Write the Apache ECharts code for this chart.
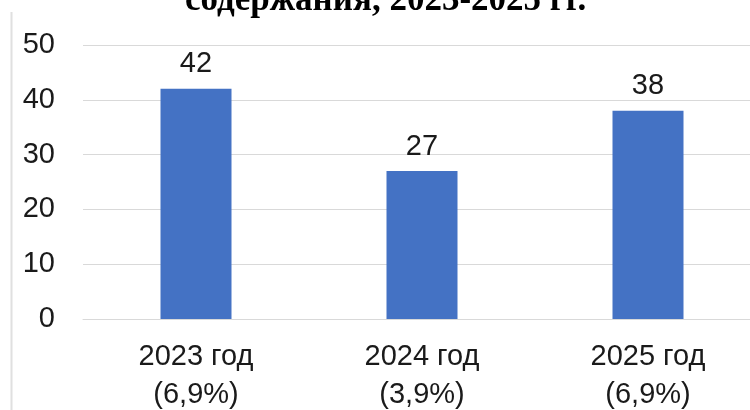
<!DOCTYPE html>
<html>
<head>
<meta charset="utf-8">
<script src="https://cdn.jsdelivr.net/npm/echarts@6/dist/echarts.min.js"></script>
<style>
html,body{margin:0;padding:0;background:#fff;}
#chart{width:750px;height:410px;}
</style>
</head>
<body>
<div id="chart"></div>
<script>
const titleText = 'содержания, 2023-2025 гг.';
const categories = ['2023 год\n(6,9%)', '2024 год\n(3,9%)', '2025 год\n(6,9%)'];
const values = [42, 27, 38];
const yTicks = { min: 0, max: 50, interval: 10 };

const chart = echarts.init(document.getElementById('chart'), null, { renderer: 'canvas' });
chart.setOption({
  animation: false,
  backgroundColor: '#ffffff',
  title: {
    text: titleText,
    left: 185,
    top: -17,
    padding: 0,
    textStyle: {
      fontFamily: '"Liberation Serif", "Times New Roman", serif',
      fontWeight: 'bold',
      fontSize: 35,
      color: '#000'
    }
  },
  graphic: [{
    type: 'line',
    shape: { x1: 11.5, y1: 12, x2: 11.5, y2: 410 },
    style: { stroke: '#e0e0e0', lineWidth: 2 },
    silent: true
  }],
  grid: { left: 83, right: -11, top: 45, bottom: 91, containLabel: false, outerBoundsMode: 'none' },
  xAxis: {
    type: 'category',
    data: categories,
    axisTick: { show: false },
    axisLine: { show: true, lineStyle: { color: '#d9d9d9', width: 1 } },
    axisLabel: {
      margin: 19,
      color: '#1a1a1a',
      fontSize: 29,
      lineHeight: 38,
      fontFamily: 'Arial, "Liberation Sans", sans-serif'
    }
  },
  yAxis: {
    type: 'value',
    min: yTicks.min,
    max: yTicks.max,
    interval: yTicks.interval,
    axisLine: { show: false },
    axisTick: { show: false },
    splitLine: { lineStyle: { color: '#d9d9d9', width: 1 } },
    axisLabel: {
      margin: 28,
      color: '#1a1a1a',
      fontSize: 29,
      fontFamily: 'Arial, "Liberation Sans", sans-serif'
    }
  },
  series: [{
    type: 'bar',
    data: values,
    barWidth: 71,
    itemStyle: { color: '#4472C4' },
    label: {
      show: true,
      position: 'top',
      distance: 10,
      color: '#1a1a1a',
      fontSize: 29,
      fontFamily: 'Arial, "Liberation Sans", sans-serif'
    }
  }]
});
</script>
</body>
</html>
